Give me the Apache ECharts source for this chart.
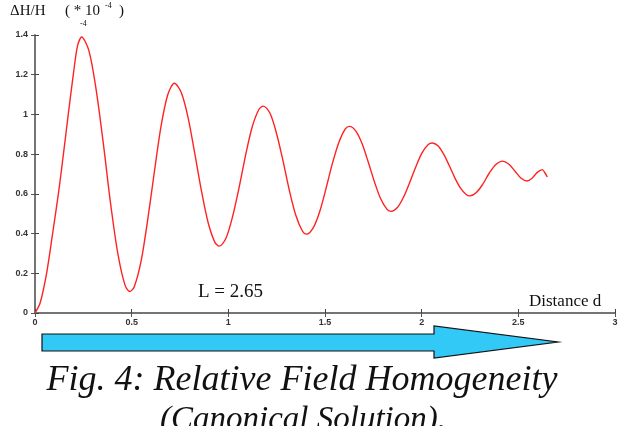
<!DOCTYPE html>
<html>
<head>
<meta charset="utf-8">
<script src="https://cdn.jsdelivr.net/npm/echarts@6/dist/echarts.min.js"></script>
<style>
  html, body { margin: 0; padding: 0; background: #fff; }
  #main { width: 625px; height: 426px; }
</style>
</head>
<body>
<div id="main"></div>
<script>
// distance d
var distance = [0, 0.026, 0.060, 0.091, 0.121, 0.147, 0.172, 0.198, 0.220, 0.241,
  0.279, 0.316, 0.354, 0.391, 0.429, 0.466, 0.491,
  0.514, 0.549, 0.583, 0.618, 0.652, 0.687, 0.721,
  0.756, 0.791, 0.825, 0.860, 0.895, 0.930, 0.953,
  0.987, 1.021, 1.056, 1.090, 1.124, 1.158, 1.181,
  1.215, 1.248, 1.282, 1.315, 1.349, 1.383, 1.405,
  1.438, 1.472, 1.505, 1.538, 1.572, 1.605, 1.627,
  1.659, 1.692, 1.724, 1.756, 1.788, 1.821, 1.842,
  1.874, 1.906, 1.938, 1.970, 2.002, 2.034, 2.055,
  2.084, 2.113, 2.142, 2.171, 2.201, 2.230, 2.249,
  2.283, 2.317, 2.350, 2.384, 2.418,
  2.450, 2.482, 2.513, 2.545,
  2.571, 2.598, 2.624, 2.638, 2.650];
// relative field deviation dH/H (*10^-4)
var homogeneity = [0, 0.049, 0.2, 0.4, 0.6, 0.8, 1.0, 1.2, 1.345, 1.39,
  1.320, 1.126, 0.849, 0.551, 0.296, 0.139, 0.108,
  0.134, 0.262, 0.470, 0.715, 0.941, 1.100, 1.157,
  1.112, 0.988, 0.811, 0.620, 0.457, 0.357, 0.337,
  0.375, 0.482, 0.634, 0.798, 0.939, 1.025, 1.042,
  1.007, 0.909, 0.770, 0.620, 0.492, 0.413, 0.397,
  0.427, 0.509, 0.626, 0.752, 0.860, 0.927, 0.940,
  0.917, 0.852, 0.759, 0.660, 0.575, 0.522, 0.512,
  0.531, 0.583, 0.657, 0.737, 0.806, 0.848, 0.856,
  0.842, 0.801, 0.744, 0.682, 0.629, 0.597, 0.590,
  0.607, 0.650, 0.705, 0.748, 0.765,
  0.750, 0.715, 0.680, 0.665,
  0.679, 0.708, 0.722, 0.705, 0.685];
var xTicks = [0, 3, 0.5];    // min, max, step
var yTicks = [0, 1.4, 0.2];

var myChart = echarts.init(document.getElementById('main'));

var points = [];
for (var i = 0; i < distance.length; i++) {
    points.push([distance[i], homogeneity[i]]);
}

var tickLabel = { fontSize: 9, fontWeight: 'bold', color: '#333', fontFamily: 'Arial' };
var serif = '"Liberation Serif", "Times New Roman", serif';

var option = {
    animation: false,
    grid: { left: 35, right: 10, top: 35, bottom: 113 },
    xAxis: [{
        type: 'value', min: xTicks[0], max: xTicks[1], interval: xTicks[2],
        axisLine: { lineStyle: { color: '#444', width: 1.5 } },
        axisTick: { inside: true, length: 4, lineStyle: { color: '#444' } },
        axisLabel: Object.assign({ margin: 5 }, tickLabel),
        splitLine: { show: false }
    }, {
        type: 'value', position: 'top', min: xTicks[0], max: xTicks[1], interval: xTicks[2],
        axisLine: { lineStyle: { color: '#777', width: 1.5 } },
        axisTick: { inside: true, length: 4, lineStyle: { color: '#555' } },
        axisLabel: { show: false },
        splitLine: { show: false }
    }],
    yAxis: [{
        type: 'value', min: yTicks[0], max: yTicks[1], interval: yTicks[2],
        axisLine: { show: true, lineStyle: { color: '#444', width: 1.5 } },
        axisTick: { show: true, inside: true, length: 4, lineStyle: { color: '#444' } },
        axisLabel: Object.assign({ margin: 7 }, tickLabel),
        splitLine: { show: false }
    }, {
        type: 'value', position: 'right', min: yTicks[0], max: yTicks[1], interval: yTicks[2],
        axisLine: { show: true, lineStyle: { color: '#777', width: 1.5 } },
        axisTick: { show: true, inside: true, length: 4, lineStyle: { color: '#555' } },
        axisLabel: { show: false },
        splitLine: { show: false }
    }],
    series: [{
        type: 'line',
        xAxisIndex: 0,
        yAxisIndex: 0,
        data: points,
        smooth: 0.3,
        showSymbol: false,
        lineStyle: { color: '#f22', width: 1.4 }
    }],
    graphic: [
        // y-axis title
        { type: 'text', x: 10, y: 4, style: { text: 'ΔH/H', font: '15px ' + serif, fill: '#111' } },
        { type: 'text', x: 65, y: 4, style: { text: '( * 10', font: '15px ' + serif, fill: '#111' } },
        { type: 'text', x: 105, y: 2, style: { text: '-4', font: '8px ' + serif, fill: '#111' } },
        { type: 'text', x: 119, y: 4, style: { text: ')', font: '15px ' + serif, fill: '#111' } },
        { type: 'text', x: 80, y: 20, style: { text: '-4', font: '8px ' + serif, fill: '#111' } },
        // annotations inside the plot
        { type: 'text', x: 198, y: 292, style: { text: 'L = 2.65', font: '19px ' + serif, fill: '#111', textVerticalAlign: 'middle' } },
        { type: 'text', x: 529, y: 302, style: { text: 'Distance d', font: '17px ' + serif, fill: '#111', textVerticalAlign: 'middle' } },
        // direction arrow
        {
            type: 'polygon',
            shape: { points: [[42, 334], [434, 334], [434, 326], [558, 342], [434, 358], [434, 351], [42, 351]] },
            style: { fill: '#33c9f7', stroke: '#111', lineWidth: 1.2 }
        },
        // caption
        { type: 'text', x: 302, y: 381, style: { text: 'Fig. 4: Relative Field Homogeneity', font: 'italic 36px ' + serif, fill: '#111', textAlign: 'center', textVerticalAlign: 'middle' } },
        { type: 'text', x: 303, y: 420, style: { text: '(Canonical Solution).', font: 'italic 33px ' + serif, fill: '#111', textAlign: 'center', textVerticalAlign: 'middle' } }
    ]
};

myChart.setOption(option);
</script>
</body>
</html>
